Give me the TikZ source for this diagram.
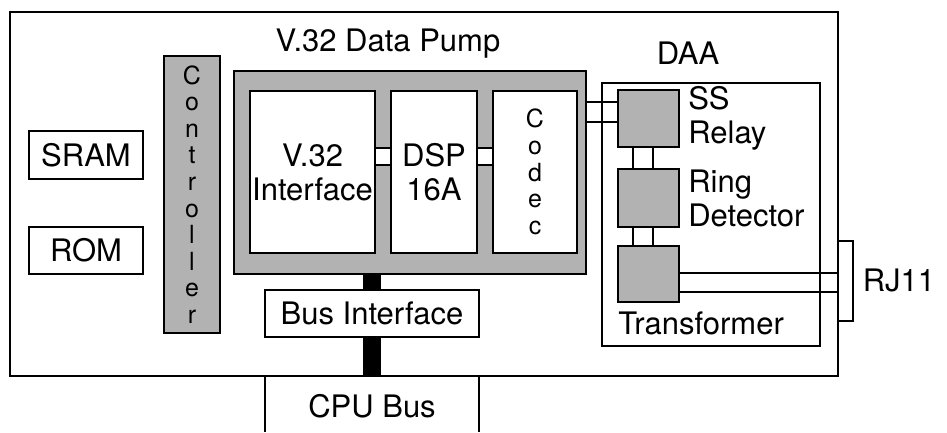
\documentclass[tikz,border=0pt]{standalone}
\usepackage{fontspec}
\setmainfont{TeX Gyre Heros}
\usepackage{tikz}
\usetikzlibrary{
	calc,
	positioning
}
\definecolor{ShadeGray}{gray}{0.7}

\begin{document}
\begin{tikzpicture}[x=1pt, y=-1pt, line width=2.6pt,
		blk/.style={draw, fill=white, inner sep=0pt, outer sep=0pt, anchor=north west,
			font=\fontsize{31}{34}\selectfont, align=center},
		shaded/.style={blk, fill=ShadeGray},
		lbl/.style={inner sep=0pt, font=\fontsize{31}{34}\selectfont, align=left},
		vtxt/.style={font=\fontsize{25}{26.6}\selectfont},
		bus/.style={line width=18pt},
		wire/.style={line width=2pt}]
		\useasboundingbox (0,0) rectangle (947,432);
		
		% board
		\node[blk, minimum width=828pt, minimum height=364pt] (board) at (10,12) {};
		\node[blk, minimum width=114pt, minimum height=48pt] (sram) at (29,131) {SRAM};
		\node[blk, minimum width=114pt, minimum height=47pt] (rom) at (29,227) {ROM};
		\node[shaded, minimum width=56pt, minimum height=277pt, vtxt] (ctrl) at (164,56)
			{C\\o\\n\\t\\r\\o\\l\\l\\e\\r};
		
		% data pump
		\node[lbl] (pumptxt) at (388,44) {V.32 Data Pump};
		\node[shaded, minimum width=352pt, minimum height=203pt] (pump) at (234,71) {};
		\node[blk, minimum width=125pt, minimum height=162pt] (v32) at (250,91) {V.32\\Interface};
		\node[blk, minimum width=86pt, minimum height=162pt] (dsp) at (391,91) {DSP\\16A};
		\node[blk, minimum width=84pt, minimum height=162pt, vtxt] (codec) at (493,91) {C\\o\\d\\e\\c};
		\draw[fill=white] (v32.east |- 0,148) rectangle (dsp.west |- 0,165);
		\draw[fill=white] (dsp.east |- 0,148) rectangle (codec.west |- 0,165);
		
		% bus
		\node[blk, minimum width=214pt, minimum height=47pt] (busif) at (265,290) {Bus Interface};
		\draw[bus] (busif.north) -- (busif.north |- pump.south);
		\draw[bus] (busif.south) -- (busif.south |- board.south);
		\draw (busif.west |- board.south) -- (busif.west |- 0,432);
		\draw (busif.east |- board.south) -- (busif.east |- 0,432);
		\node[lbl] (cpu) at (372,406) {CPU Bus};
		
		% DAA
		\node[lbl] (daatxt) at (688,53) {DAA};
		\node[blk, minimum width=218pt, minimum height=263pt] (daa) at (602,83) {};
		\node[shaded, minimum width=61pt, minimum height=57pt] (ssr) at (618,90) {};
		\node[shaded, minimum width=61pt, minimum height=58pt] (ring) at (618,169) {};
		\node[shaded, minimum width=61pt, minimum height=56pt] (xfmr) at (618,246) {};
		\node[lbl, anchor=west] (ssrtxt) at ([xshift=8pt]ssr.east) {SS\\Relay};
		\node[lbl, anchor=west] (ringtxt) at ([xshift=8pt]ring.east) {Ring\\Detector};
		\node[lbl, anchor=west] (xfmrtxt) at (617,323) {Transformer};
		
		\draw[wire] (pump.east |- 0,102) -- (ssr.west |- 0,102);
		\draw[wire] (pump.east |- 0,122) -- (ssr.west |- 0,122);
		\foreach \dx in {-15.5,4.5} {
			\draw[wire] ([xshift=\dx pt]ssr.south) -- ([xshift=\dx pt]ring.north);
			\draw[wire] ([xshift=\dx pt]ring.south) -- ([xshift=\dx pt]xfmr.north);
		}
		\draw[wire] (xfmr.east |- 0,273) -- (board.east |- 0,273);
		\draw[wire] (xfmr.east |- 0,292) -- (board.east |- 0,292);
		
		% RJ11 jack
		\coordinate (rjtop) at (853,241);
		\coordinate (rjbot) at (853,321);
		\draw (board.east |- rjtop) -- (rjtop) -- (rjbot) -- (board.east |- rjbot);
		\node[lbl] (rj) at (899,280) {RJ11};
	\end{tikzpicture}
\end{document}
